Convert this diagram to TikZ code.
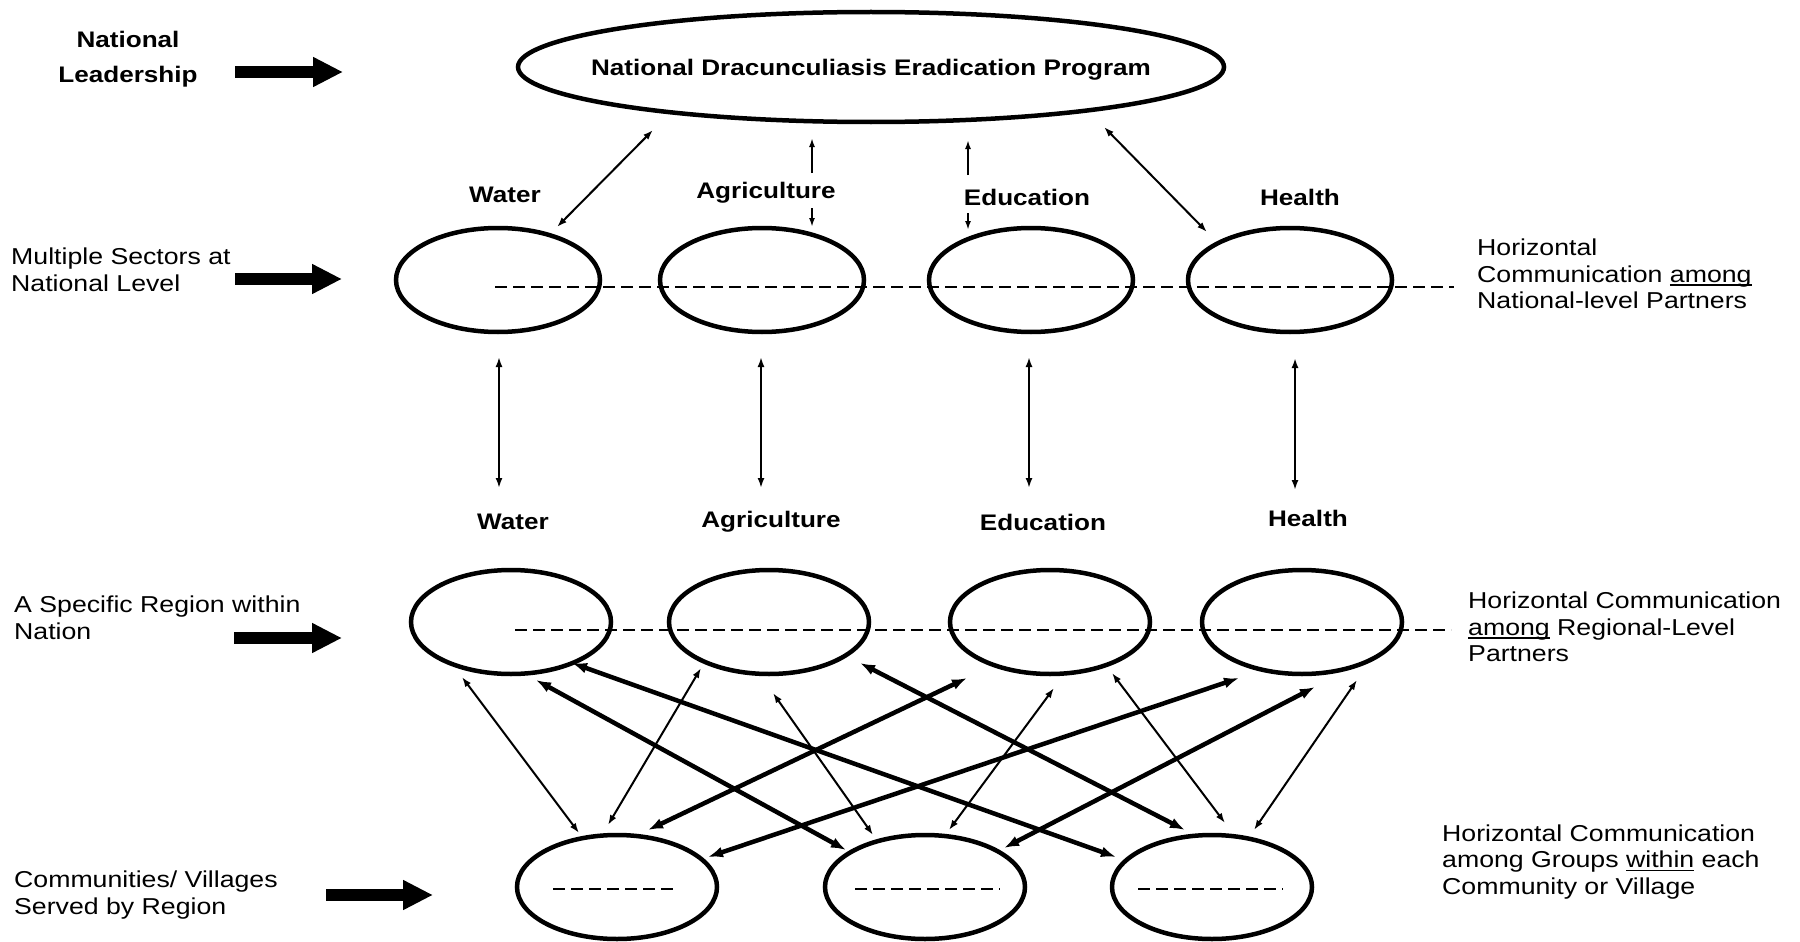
\documentclass[tikz,border=0pt]{standalone}
\usepackage{fontspec}
\setmainfont{Liberation Sans}[FakeStretch=1.16]
\usetikzlibrary{arrows.meta,calc,shapes.geometric}
\newcommand\ulx[1]{\setbox0\hbox{#1}\rlap{\rule[-3.5pt]{\wd0}{1.8pt}}\box0\relax}
\begin{document}
\begin{tikzpicture}[x=1pt,y=-1pt,
  oval/.style={draw,ellipse,line width=4.5pt,minimum width=200pt,minimum height=104pt,inner sep=0pt,outer sep=0pt},
  lab/.style={font=\fontsize{22.5}{26}\selectfont\bfseries,inner sep=0pt},
  side/.style={font=\fontsize{23}{26.5}\selectfont,align=left,anchor=west,inner sep=0pt},
  bigarrow/.style={line width=12pt,-{Triangle[length=30pt,width=28pt]}},
  slimarr/.style={line width=2pt,{Latex[length=10pt,width=7pt]}-{Latex[length=10pt,width=7pt]}},
  slimone/.style={line width=2pt,-{Latex[length=9pt,width=6pt]}},
  boldarr/.style={line width=4.5pt,{Latex[length=15pt,width=11pt]}-{Latex[length=15pt,width=11pt]}},
  hdash/.style={line width=2pt,dash pattern=on 12pt off 6pt}
]
\fill[white] (0,0) rectangle (1800,942);
\useasboundingbox (0,0) rectangle (1800,942);

% left labels
\node[lab,align=center,font=\fontsize{22.5}{35}\selectfont\bfseries] (nl) at (128,59) {National\\Leadership};
\node[side] (ms) at (11,270) {Multiple Sectors at\\National Level};
\node[side] (sr) at (14,618) {A Specific Region within\\Nation};
\node[side] (cv) at (14,895) {Communities/ Villages\\Served by Region};

% big arrows
\coordinate (b1s) at (235,72);  \coordinate (b1e) at (343,72);
\coordinate (b2s) at (235,279); \coordinate (b2e) at (342,279);
\coordinate (b3s) at (234,638); \coordinate (b3e) at (342,638);
\coordinate (b4s) at (326,895); \coordinate (b4e) at (433,895);
\draw[bigarrow] (b1s) -- (b1e);
\draw[bigarrow] (b2s) -- (b2e);
\draw[bigarrow] (b3s) -- (b3e);
\draw[bigarrow] (b4s) -- (b4e);

% top ellipse
\node[oval,minimum width=706pt,minimum height=110pt] (T) at (871,67) {};
\node[lab] (Ttxt) at (871,70) {National Dracunculiasis Eradication Program};

% row 2
\node[lab] (W2lab) at (505,195) {Water};
\node[lab] (A2lab) at (766,193) {Agriculture};
\node[lab] (E2lab) at (1027,197) {Education};
\node[lab] (H2lab) at (1300,197) {Health};
\node[oval,minimum width=204pt] (W2) at (498,280) {};
\node[oval,minimum width=204pt] (A2) at (762,280) {};
\node[oval,minimum width=204pt] (E2) at (1031,280) {};
\node[oval,minimum width=204pt] (H2) at (1290,280) {};
\draw[hdash] ($(W2)+(-3,7)$) -- ($(H2)+(164,7)$);
\node[side] (hc1) at (1477,274) {Horizontal\\Communication \ulx{among}\\National-level Partners};

% top connectors
\draw[slimarr] ($(T)+(-218,63)$) -- ($(W2)+(59,-53)$);
\draw[slimarr] ($(T)+(233,60)$) -- ($(H2)+(-83,-48)$);
\draw[slimone] ($(A2lab)+(46,-20)$) -- ($(T)+(-59,71)$);
\draw[slimone] ($(A2lab)+(46,15)$) -- ($(A2)+(50,-53)$);
\draw[slimone] ($(E2lab)+(-59,-22)$) -- ($(T)+(97,73)$);
\draw[slimone] ($(E2lab)+(-59,16)$) -- ($(E2)+(-63,-50)$);

% row 3
\node[lab] (W3lab) at (513,522) {Water};
\node[lab] (A3lab) at (771,522) {Agriculture};
\node[lab] (E3lab) at (1043,522) {Education};
\node[lab] (H3lab) at (1308,518) {Health};
\draw[slimarr] ($(W2)+(1,77)$) -- ($(W3lab)+(-14,-34)$);
\draw[slimarr] ($(A2)+(-1,77)$) -- ($(A3lab)+(-10,-34)$);
\draw[slimarr] ($(E2)+(-2,77)$) -- ($(E3lab)+(-14,-34)$);
\draw[slimarr] ($(H2)+(5,78)$) -- ($(H3lab)+(-13,-28)$);
\node[oval] (W3) at (511,622) {};
\node[oval] (A3) at (769,622) {};
\node[oval] (E3) at (1050,622) {};
\node[oval] (H3) at (1302,622) {};
\draw[hdash] ($(W3)+(4,8)$) -- ($(H3)+(149,8)$);
\node[side] (hc2) at (1468,627) {Horizontal Communication\\\ulx{among} Regional-Level\\Partners};

% bottom row
\node[oval] (L) at (617,887) {};
\node[oval] (M) at (925,887) {};
\node[oval] (R) at (1212,887) {};
\draw[hdash] ($(L)+(-64,2)$) -- ($(L)+(61,2)$);
\draw[hdash] ($(M)+(-70,2)$) -- ($(M)+(75,2)$);
\draw[hdash] ($(R)+(-74,2)$) -- ($(R)+(71,2)$);
\node[side] (hc3) at (1442,862) {Horizontal Communication\\among Groups \ulx{within} each\\Community or Village};

% region-community connectors
\draw[slimarr] ($(W3)+(-49,55)$) -- ($(L)+(-38,-54)$);
\draw[slimarr] ($(A3)+(-68,46)$) -- ($(L)+(-9,-62)$);
\draw[boldarr] ($(W3)+(61,41)$) -- ($(R)+(-96,-30)$);
\draw[boldarr] ($(W3)+(25,58)$) -- ($(M)+(-79,-37)$);
\draw[slimarr] ($(A3)+(4,71)$) -- ($(M)+(-52,-52)$);
\draw[boldarr] ($(E3)+(-83,56)$) -- ($(L)+(31,-57)$);
\draw[boldarr] ($(H3)+(-63,56)$) -- ($(L)+(91,-30)$);
\draw[boldarr] ($(A3)+(91,41)$) -- ($(R)+(-27,-57)$);
\draw[slimarr] ($(E3)+(4,66)$) -- ($(M)+(24,-57)$);
\draw[boldarr] ($(H3)+(13,65)$) -- ($(M)+(79,-39)$);
\draw[slimarr] ($(E3)+(62,51)$) -- ($(R)+(13,-64)$);
\draw[slimarr] ($(H3)+(55,58)$) -- ($(R)+(42,-57)$);
\end{tikzpicture}
\end{document}
